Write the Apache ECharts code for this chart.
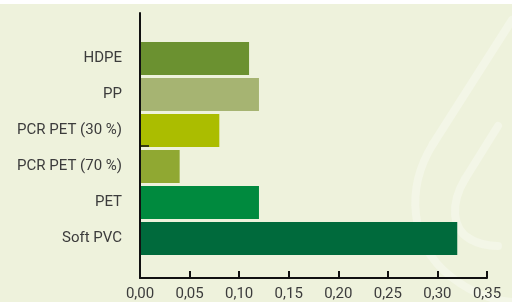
<!DOCTYPE html>
<html><head><meta charset="utf-8">
<script src="https://cdn.jsdelivr.net/npm/echarts@6/dist/echarts.min.js"></script>
<style>
html,body{margin:0;padding:0;background:#ffffff;}
#c{position:absolute;left:0;top:4px;width:512px;height:298px;background:#eef2dc;}
</style></head>
<body><div id="c"></div>
<script>
var categories = ['HDPE', 'PP', 'PCR PET (30 %)', 'PCR PET (70 %)', 'PET', 'Soft PVC'];
var values = [0.11, 0.12, 0.08, 0.04, 0.12, 0.32];
var barColors = ['#6b9130', '#a6b472', '#abbd00', '#90a832', '#008a3e', '#006a3c'];
var xTicks = [0, 0.05, 0.10, 0.15, 0.20, 0.25, 0.30, 0.35];

var chart = echarts.init(document.getElementById('c'), null, {renderer: 'canvas'});
var font = 'Roboto, "DejaVu Sans", sans-serif';
var deco = {fill: null, stroke: '#f3f6e7', lineWidth: 8, lineCap: 'round'};
chart.setOption({
  animation: false,
  backgroundColor: 'transparent',
  graphic: [
    {type: 'line', z: -10, silent: true, shape: {x1: 512, y1: 16, x2: 433, y2: 140}, style: deco},
    {type: 'bezierCurve', z: -10, silent: true,
      shape: {x1: 433, y1: 140, cpx1: 405, cpy1: 185, cpx2: 410, cpy2: 240, x2: 450, y2: 272}, style: deco},
    {type: 'bezierCurve', z: -10, silent: true,
      shape: {x1: 450, y1: 272, cpx1: 470, cpy1: 288, cpx2: 490, cpy2: 296, x2: 512, y2: 298}, style: deco},
    {type: 'line', z: -10, silent: true, shape: {x1: 498, y1: 122, x2: 465, y2: 175}, style: deco},
    {type: 'bezierCurve', z: -10, silent: true,
      shape: {x1: 465, y1: 175, cpx1: 450, cpy1: 200, cpx2: 452, cpy2: 225, x2: 470, y2: 235}, style: deco},
    {type: 'bezierCurve', z: -10, silent: true,
      shape: {x1: 470, y1: 235, cpx1: 480, cpy1: 241, cpx2: 490, cpy2: 242, x2: 498, y2: 242}, style: deco}
  ],
  grid: [
    {left: 140, width: 347, top: 9, height: 270},
    {left: 140, width: 347, top: 36.5, height: 216}
  ],
  xAxis: [{
    gridIndex: 0, type: 'value', min: xTicks[0], max: xTicks[xTicks.length - 1], interval: 0.05,
    axisLine: {show: true, lineStyle: {color: '#111', width: 2}},
    axisTick: {show: true, inside: true, length: 7, lineStyle: {color: '#111', width: 2}},
    splitLine: {show: false},
    axisLabel: {margin: 9, fontFamily: font, fontSize: 15, color: '#3c3c3c',
      formatter: function (v) { return v.toFixed(2).replace('.', ','); }}
  }, {
    gridIndex: 1, type: 'value', min: xTicks[0], max: xTicks[xTicks.length - 1], show: false
  }],
  yAxis: [{
    gridIndex: 0, type: 'value', min: 0, max: 1, interval: 1, z: 5,
    axisLine: {show: true, lineStyle: {color: '#111', width: 2}},
    axisTick: {show: false, inside: true},
    minorTick: {show: true, splitNumber: 2, length: 9, lineStyle: {color: '#111', width: 1.5}},
    axisLabel: {show: false}, splitLine: {show: false}, minorSplitLine: {show: false}
  }, {
    gridIndex: 1, type: 'category', data: categories, inverse: true,
    axisLine: {show: false}, axisTick: {show: false}, splitLine: {show: false},
    axisLabel: {margin: 18, fontFamily: font, fontSize: 15, color: '#3c3c3c'}
  }],
  series: [{
    type: 'bar', xAxisIndex: 1, yAxisIndex: 1, barWidth: 33,
    data: values.map(function (v, i) { return {value: v, itemStyle: {color: barColors[i]}}; })
  }]
});
</script></body></html>
